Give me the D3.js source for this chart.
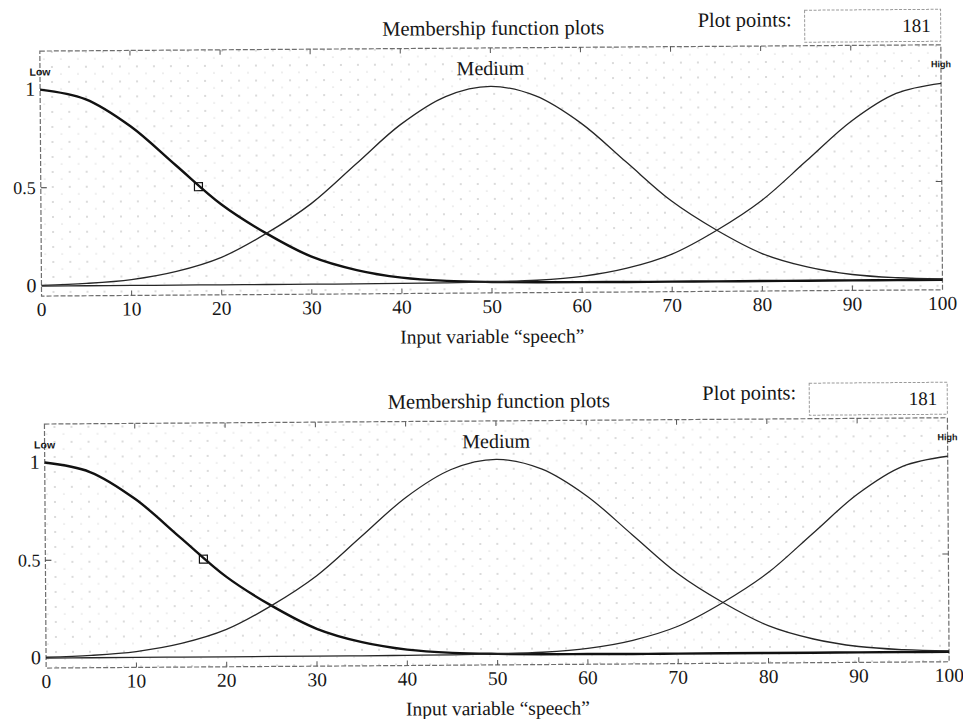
<!DOCTYPE html>
<html>
<head>
<meta charset="utf-8">
<script src="https://cdn.jsdelivr.net/npm/d3@7"></script>
<style>
  body { margin: 0; background: #fff; }
  svg text { font-family: "Liberation Serif", "Times New Roman", serif; fill: #161616; }
</style>
</head>
<body>
<div id="chart"></div>
<script>
// membership degrees, every 5 units of "speech"
var speechX  = [0, 5, 10, 15, 20, 25, 30, 35, 40, 45, 50, 55, 60, 65, 70, 75, 80, 85, 90, 95, 100];
var lowMF    = [1.00, 0.95, 0.81, 0.61, 0.41, 0.26, 0.14, 0.07, 0.03, 0.012, 0.005, 0.002, 0.001, 0, 0, 0, 0, 0, 0, 0, 0];
var mediumMF = [0.004, 0.012, 0.03, 0.07, 0.14, 0.26, 0.41, 0.61, 0.81, 0.95, 1.00, 0.95, 0.81, 0.61, 0.41, 0.26, 0.14, 0.07, 0.03, 0.012, 0.004];
var highMF   = [0, 0, 0, 0, 0, 0, 0, 0, 0.001, 0.002, 0.005, 0.012, 0.03, 0.07, 0.14, 0.26, 0.41, 0.61, 0.81, 0.95, 1.00];
var mfNames  = ['Low', 'Medium', 'High'];
var mfPeaks  = [0, 50, 100];
var xTicks   = [0, 10, 20, 30, 40, 50, 60, 70, 80, 90, 100];
var yTicks   = [0, 0.5, 1];
var lowHandle = [17.5, 0.5];   // the little square on the selected (Low) curve
var plotPoints = 181;

// the two panels of the figure (same plot twice)
var panels = [
  {left: 42, right: 943, top: 48, bottom: 293},
  {left: 44, right: 947, top: 421, bottom: 665}
];

var svg = d3.select('#chart').append('svg')
  .attr('width', 963)
  .attr('height', 719);

// the scan is a little tilted
var root = svg.append('g').attr('transform', 'rotate(-0.4, 481, 360)');

var defs = svg.append('defs');
var pat = defs.append('pattern')
  .attr('id', 'speckle')
  .attr('patternUnits', 'userSpaceOnUse')
  .attr('width', 17).attr('height', 15);
pat.append('circle').attr('cx', 3).attr('cy', 4).attr('r', 0.7).attr('fill', '#9a9a9a');
pat.append('circle').attr('cx', 12).attr('cy', 11).attr('r', 0.6).attr('fill', '#b5b5b5');

var series = [lowMF, mediumMF, highMF];

panels.forEach(function(p) {
  var g = root.append('g');

  var x = d3.scaleLinear().domain([0, 100]).range([p.left, p.right]);
  var y = d3.scaleLinear().domain([0, 1]).range([p.bottom - 10, p.top + 38.5]);

  // plot area
  g.append('rect')
    .attr('x', p.left).attr('y', p.top)
    .attr('width', p.right - p.left).attr('height', p.bottom - p.top)
    .style('fill', 'url(#speckle)')
    .style('stroke', '#6e6e6e')
    .style('stroke-width', 1.2)
    .style('stroke-dasharray', '5 2');

  // ticks inside the box
  var inner = xTicks.slice(1, -1);
  g.selectAll('.xt-top').data(inner).enter().append('line')
    .attr('x1', d => x(d)).attr('x2', d => x(d))
    .attr('y1', p.top).attr('y2', p.top + 5)
    .style('stroke', '#555');
  g.selectAll('.xt-bot').data(inner).enter().append('line')
    .attr('x1', d => x(d)).attr('x2', d => x(d))
    .attr('y1', p.bottom).attr('y2', p.bottom - 5)
    .style('stroke', '#555');
  g.selectAll('.yt').data([0.5]).enter().append('line')
    .attr('x1', p.left).attr('x2', p.left + 6)
    .attr('y1', d => y(d)).attr('y2', d => y(d))
    .style('stroke', '#333');
  g.selectAll('.yt-r').data([0.5]).enter().append('line')
    .attr('x1', p.right).attr('x2', p.right - 6)
    .attr('y1', d => y(d)).attr('y2', d => y(d))
    .style('stroke', '#555');

  // curves
  var line = d3.line()
    .x(d => x(d[0]))
    .y(d => y(d[1]))
    .curve(d3.curveCatmullRom.alpha(0.5));

  series.forEach(function(vals, i) {
    g.append('path')
      .datum(speechX.map((v, k) => [v, vals[k]]))
      .attr('d', line)
      .style('fill', 'none')
      .style('stroke', i == 0 ? '#111' : '#262626')
      .style('stroke-width', i == 0 ? 2.4 : 1.3);
  });

  g.append('rect')
    .attr('x', x(lowHandle[0]) - 4).attr('y', y(lowHandle[1]) - 4)
    .attr('width', 8).attr('height', 8)
    .style('fill', 'none')
    .style('stroke', '#111')
    .style('stroke-width', 1.2);

  // mf names over their peaks
  mfNames.forEach(function(name, i) {
    var t = g.append('text')
      .attr('x', x(mfPeaks[i]))
      .attr('text-anchor', 'middle')
      .text(name);
    if (name == 'Medium') {
      t.attr('y', p.top + 27).style('font-size', '20px');
    } else {
      t.attr('y', p.top + (name == 'Low' ? 24.5 : 22.5))
        .style('font-family', '"Liberation Sans", Arial, sans-serif')
        .style('font-weight', 'bold')
        .style('font-size', name == 'Low' ? '10.5px' : '9px');
    }
  });

  // axis labels
  g.selectAll('.xl').data(xTicks).enter().append('text')
    .attr('x', d => x(d))
    .attr('y', p.bottom + 20)
    .attr('text-anchor', 'middle')
    .style('font-size', '19.5px')
    .text(d => d);
  g.selectAll('.yl').data(yTicks).enter().append('text')
    .attr('x', p.left - 5)
    .attr('y', d => y(d) + 6)
    .attr('text-anchor', 'end')
    .style('font-size', d => d == 0.5 ? '18px' : '20px')
    .text(d => d);

  g.append('text')
    .attr('x', (p.left + p.right) / 2)
    .attr('y', p.bottom + 50)
    .attr('text-anchor', 'middle')
    .style('font-size', '19.5px')
    .text('Input variable \u201cspeech\u201d');

  g.append('text')
    .attr('x', (p.left + p.right) / 2 + 3)
    .attr('y', p.top - 13)
    .attr('text-anchor', 'middle')
    .style('font-size', '20.5px')
    .text('Membership function plots');

  g.append('text')
    .attr('x', p.left + 658)
    .attr('y', p.top - 19.5)
    .style('font-size', '20.5px')
    .text('Plot points:');

  g.append('rect')
    .attr('x', p.left + 765).attr('y', p.top - 35.5)
    .attr('width', p.right - p.left - 765).attr('height', 32)
    .style('fill', '#fff')
    .style('stroke', '#9a9a9a')
    .style('stroke-dasharray', '3 1.5');

  g.append('text')
    .attr('x', p.right - 10)
    .attr('y', p.top - 13)
    .attr('text-anchor', 'end')
    .style('font-size', '19px')
    .text(plotPoints);
});
</script>
</body>
</html>
